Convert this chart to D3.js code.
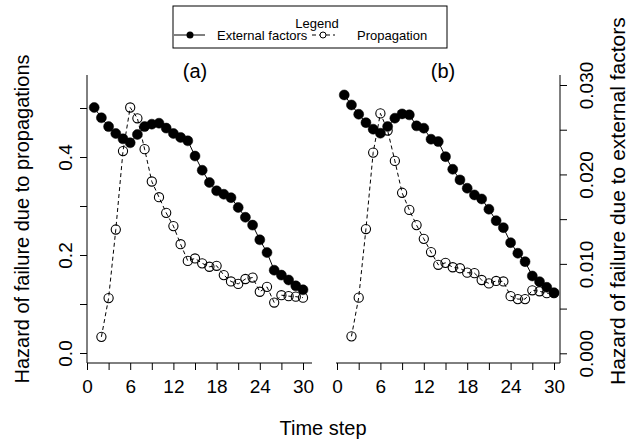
<!DOCTYPE html>
<html>
<head>
<meta charset="utf-8">
<script src="https://cdn.jsdelivr.net/npm/d3@7"></script>
<style>
    body { margin: 0; background: #fff; }
    svg { display: block; font-family: "Liberation Sans", Arial, sans-serif; }
    .frame { stroke: #000; stroke-width: 1; fill: none; }
</style>
</head>
<body>
<div id="chart"></div>
<script>
// time steps
var extSteps = [1, 2, 3, 4, 5, 6, 7, 8, 9, 10, 11, 12, 13, 14, 15, 16, 17, 18, 19, 20, 21, 22, 23, 24, 25, 26, 27, 28, 29, 30];
var propSteps = [2, 3, 4, 5, 6, 7, 8, 9, 10, 11, 12, 13, 14, 15, 16, 17, 18, 19, 20, 21, 22, 23, 24, 25, 26, 27, 28, 29, 30];

// panel (a)
var extA = [0.501, 0.480, 0.462, 0.448, 0.437, 0.429, 0.446, 0.462, 0.467, 0.469, 0.459, 0.448, 0.440, 0.433, 0.402,
    0.373, 0.348, 0.331, 0.324, 0.317, 0.297, 0.277, 0.261, 0.231, 0.205, 0.169, 0.159, 0.149, 0.137, 0.129];
var propA = [0.033, 0.112, 0.252, 0.412, 0.501, 0.479, 0.416, 0.350, 0.318, 0.286, 0.259, 0.222, 0.188, 0.193,
    0.183, 0.176, 0.178, 0.159, 0.146, 0.141, 0.151, 0.154, 0.125, 0.135, 0.103, 0.118, 0.116, 0.115, 0.113];

// panel (b)
var extB = [0.02889, 0.02777, 0.02673, 0.02579, 0.02506, 0.02461, 0.02535, 0.02629, 0.02677, 0.02666, 0.02543, 0.02517,
    0.02394, 0.02367, 0.02199, 0.02058, 0.01939, 0.01846, 0.01771, 0.01726, 0.01611, 0.01483, 0.01405, 0.01237,
    0.01119, 0.01025, 0.00865, 0.00801, 0.00738, 0.00678];
var propB = [0.034, 0.113, 0.253, 0.409, 0.489, 0.454, 0.392, 0.327, 0.292, 0.261, 0.233, 0.206, 0.180, 0.184,
    0.175, 0.173, 0.164, 0.163, 0.149, 0.142, 0.147, 0.146, 0.116, 0.110, 0.110, 0.128, 0.126, 0.122, 0.122];

// ticks
var xTicks = [0, 3, 6, 9, 12, 15, 18, 21, 24, 27, 30];
var xLabels = [0, 6, 12, 18, 24, 30];
var leftTicks = [0, 0.1, 0.2, 0.3, 0.4, 0.5];
var leftLabels = ["0.0", "", "0.2", "", "0.4", ""];
var rightTicks = [0, 0.005, 0.01, 0.015, 0.02, 0.025, 0.03];
var rightLabels = ["0.000", "", "0.010", "", "0.020", "", "0.030"];

var width = 632, height = 443;
var plotTop = 75, plotBottom = 363;

var xA = d3.scaleLinear().domain([0, 30]).range([87, 303]);
var xB = d3.scaleLinear().domain([0, 30]).range([337, 554]);
var yLeft = d3.scaleLinear().domain([0, 0.5]).range([353, 108]);
var yRight = d3.scaleLinear().domain([0, 0.03]).range([353.3, 85]);

var svg = d3.select("#chart").append("svg").attr("width", width).attr("height", height);

function drawXAxis(x, x0, x1) {
    var g = svg.append("g").attr("transform", "translate(0," + plotBottom + ")");
    g.call(d3.axisBottom(x).tickValues(xTicks).tickSize(7)
        .tickFormat(function(d) { return xLabels.indexOf(d) >= 0 ? d : ""; }));
    g.select(".domain").remove();
    g.selectAll("text").attr("y", 30).attr("dy", null).style("font-size", "19px");
    g.append("line").attr("class", "frame").attr("x1", x0).attr("x2", x1).attr("y1", 0).attr("y2", 0);
}

function drawSeries(x, y, steps, values, filled) {
    var pts = steps.map(function(t, i) { return [x(t), y(values[i])]; });
    var g = svg.append("g");
    g.append("path").attr("d", d3.line()(pts)).attr("fill", "none").attr("stroke", "#000")
        .attr("stroke-width", 1).attr("stroke-dasharray", filled ? null : "4,3");
    g.selectAll("circle").data(pts).enter().append("circle")
        .attr("cx", function(d) { return d[0]; }).attr("cy", function(d) { return d[1]; })
        .attr("r", filled ? 5 : 4.6)
        .attr("fill", filled ? "#000" : "none")
        .attr("stroke", "#000").attr("stroke-width", filled ? 0.5 : 1.1);
}

// panel (a)
drawXAxis(xA, 87, 312);
var gl = svg.append("g").attr("transform", "translate(87,0)");
gl.call(d3.axisLeft(yLeft).tickValues(leftTicks).tickSize(7)
    .tickFormat(function(d, i) { return leftLabels[i]; }));
gl.select(".domain").remove();
gl.selectAll("text").attr("transform", "rotate(-90)").attr("x", 0).attr("y", -15).attr("dy", null)
    .attr("text-anchor", "middle").style("font-size", "19px");
svg.append("line").attr("class", "frame").attr("x1", 87).attr("x2", 87).attr("y1", plotTop).attr("y2", plotBottom);

drawSeries(xA, yLeft, extSteps, extA, true);
drawSeries(xA, yLeft, propSteps, propA, false);

// panel (b)
drawXAxis(xB, 336, 560);
var gr = svg.append("g").attr("transform", "translate(560,0)");
gr.call(d3.axisRight(yRight).tickValues(rightTicks).tickSize(7)
    .tickFormat(function(d, i) { return rightLabels[i]; }));
gr.select(".domain").remove();
gr.selectAll("text").attr("transform", "rotate(-90)").attr("x", 0).attr("y", 33).attr("dy", null)
    .attr("text-anchor", "middle").style("font-size", "19px");
svg.append("line").attr("class", "frame").attr("x1", 560).attr("x2", 560).attr("y1", plotTop).attr("y2", plotBottom);

drawSeries(xB, yRight, extSteps, extB, true);
drawSeries(xB, yLeft, propSteps, propB, false);

// titles
svg.append("text").text("(a)").attr("x", 195).attr("y", 78).attr("text-anchor", "middle").style("font-size", "20px");
svg.append("text").text("(b)").attr("x", 443).attr("y", 78).attr("text-anchor", "middle").style("font-size", "20px");
svg.append("text").text("Time step").attr("x", 323).attr("y", 435).attr("text-anchor", "middle").style("font-size", "20px");
svg.append("text").text("Hazard of failure due to propagations")
    .attr("transform", "translate(29,219) rotate(-90)").attr("text-anchor", "middle").style("font-size", "20px");
svg.append("text").text("Hazard of failure due to external factors")
    .attr("transform", "translate(625,385) rotate(-90)").attr("text-anchor", "start").style("font-size", "21px");

// legend
var lg = svg.append("g");
lg.append("rect").attr("x", 173).attr("y", 6).attr("width", 274).attr("height", 42)
    .attr("fill", "#fff").attr("stroke", "#000").attr("stroke-width", 1);
lg.append("text").text("Legend").attr("x", 317).attr("y", 28).attr("text-anchor", "middle").style("font-size", "13px");
lg.append("line").attr("x1", 174).attr("x2", 205).attr("y1", 35).attr("y2", 35).attr("stroke", "#000");
lg.append("circle").attr("cx", 190).attr("cy", 35).attr("r", 3.5).attr("fill", "#000");
lg.append("text").text("External factors").attr("x", 217).attr("y", 40).style("font-size", "13px");
lg.append("line").attr("x1", 312).attr("x2", 335).attr("y1", 35).attr("y2", 35).attr("stroke", "#000")
    .attr("stroke-dasharray", "4,3");
lg.append("circle").attr("cx", 323).attr("cy", 35).attr("r", 3).attr("fill", "#fff").attr("stroke", "#000");
lg.append("text").text("Propagation").attr("x", 357).attr("y", 40).style("font-size", "13px");
</script>
</body>
</html>
